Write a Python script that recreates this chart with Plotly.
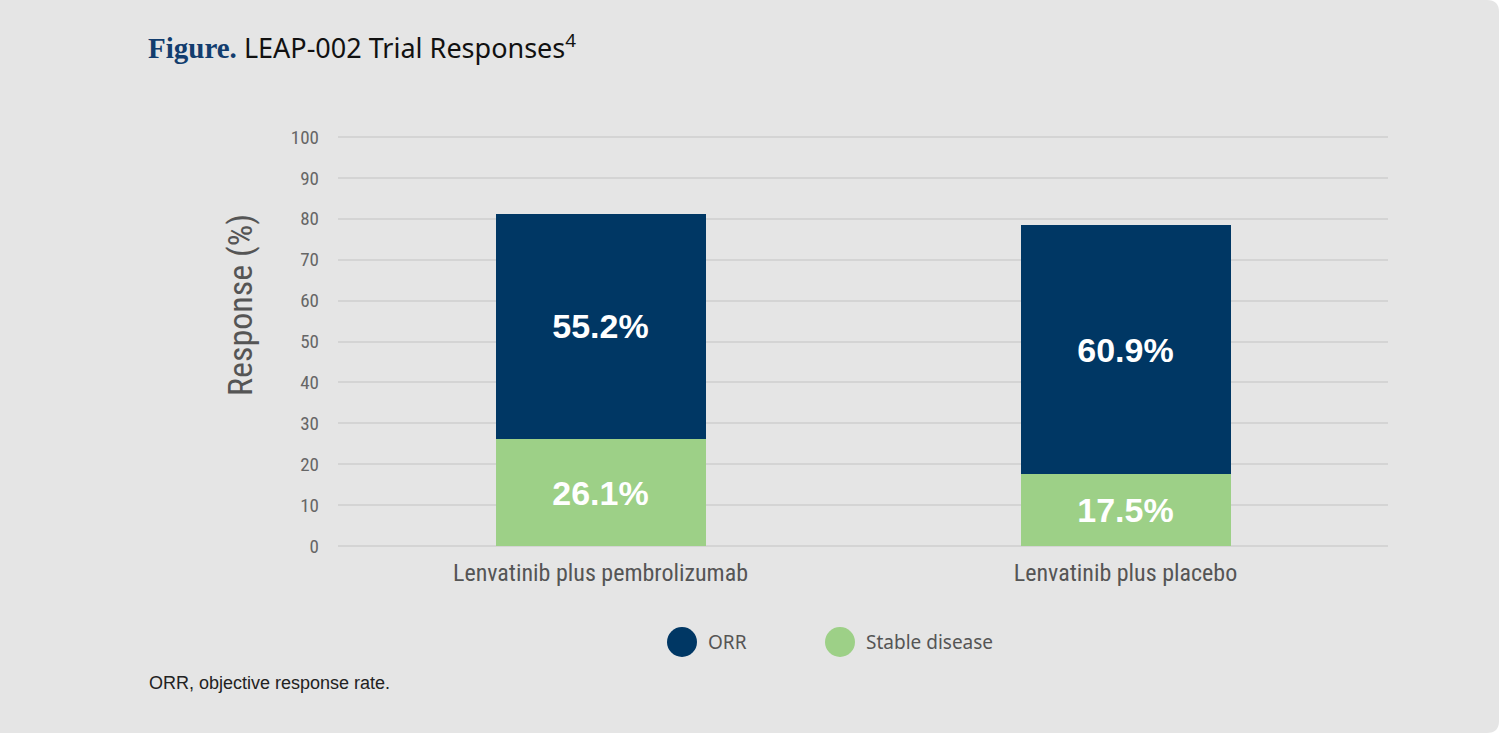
import plotly.graph_objects as go

categories = ["Lenvatinib plus pembrolizumab", "Lenvatinib plus placebo"]
stable_disease = [26.1, 17.5]
orr = [55.2, 60.9]
series_names = ["ORR", "Stable disease"]
y_ticks = [0, 10, 20, 30, 40, 50, 60, 70, 80, 90, 100]

NAVY = "#003764"
GREEN = "#9dd087"
BG = "#e5e5e5"
COND = "Liberation Sans Narrow, Roboto Condensed, DejaVu Sans Condensed, Arial Narrow, sans-serif"
W, H = 1502, 734
ML, MR, MT, MB = 338, 114, 136, 187
PW, PH = W - ML - MR, H - MT - MB


def px(x):
    return (x - ML) / PW


def py(y):
    return (H - MB - y) / PH


fig = go.Figure()
label_font = dict(color="white", size=34, family="Liberation Sans, Arial, sans-serif", weight="bold")
fig.add_trace(go.Bar(
    x=categories, y=stable_disease, name=series_names[1], marker_color=GREEN,
    text=[f"{v:.1f}%" for v in stable_disease], textposition="inside",
    insidetextanchor="middle", textangle=0, textfont=label_font,
    showlegend=False, marker_line_width=0, hoverinfo="skip",
))
fig.add_trace(go.Bar(
    x=categories, y=orr, name=series_names[0], marker_color=NAVY,
    text=[f"{v:.1f}%" for v in orr], textposition="inside",
    insidetextanchor="middle", textangle=0, textfont=label_font,
    showlegend=False, marker_line_width=0, hoverinfo="skip",
))

R = 12
path = (f"M {px(0)} {py(0)} L {px(1499 - R)} {py(0)} Q {px(1499)} {py(0)} {px(1499)} {py(R)} "
        f"L {px(1499)} {py(733 - R)} Q {px(1499)} {py(733)} {px(1499 - R)} {py(733)} "
        f"L {px(0)} {py(733)} Z")

shapes = [dict(type="path", xref="paper", yref="paper", path=path,
               fillcolor=BG, line_width=0, layer="below")]

annotations = [
    dict(xref="paper", yref="paper", x=px(146), y=py(47),
         xanchor="left", yanchor="middle", showarrow=False,
         text=("<span style=\"font-family:Liberation Serif, DejaVu Serif, serif;color:#123d6e;font-size:29px\"><b>Figure.</b></span>"
               " LEAP-002 Trial Responses<sup>4</sup>"),
         font=dict(family="Noto Sans, Open Sans, sans-serif", size=27, color="#111111")),
    dict(xref="paper", yref="paper", x=px(147), y=py(683),
         xanchor="left", yanchor="middle", showarrow=False,
         text="ORR, objective response rate.",
         font=dict(family="Liberation Sans, Arial, sans-serif", size=18, color="#222222")),
    dict(xref="paper", yref="paper", x=px(240), y=py(305),
         xanchor="center", yanchor="middle", showarrow=False, textangle=-90,
         text="Response (%)",
         font=dict(family=COND, size=34, color="#555555")),
]

# legend (circle markers with labels)
legend_items = [(series_names[0], NAVY, 682, 706), (series_names[1], GREEN, 840, 864)]
for name, col, cx, tx in legend_items:
    shapes.append(dict(type="circle", xref="paper", yref="paper",
                       x0=px(cx - 15), x1=px(cx + 15), y0=py(642 - 15), y1=py(642 + 15),
                       fillcolor=col, line_width=0))
    annotations.append(dict(xref="paper", yref="paper", x=px(tx), y=py(642),
                            xanchor="left", yanchor="middle", showarrow=False, text=name,
                            font=dict(family="Noto Sans, Open Sans, sans-serif", size=19, color="#555555")))

fig.update_layout(
    width=W, height=H,
    paper_bgcolor="white", plot_bgcolor="rgba(0,0,0,0)",
    margin=dict(l=ML, r=MR, t=MT, b=MB),
    barmode="stack", bargap=0.6, showlegend=False, hovermode=False,
    shapes=shapes, annotations=annotations,
    xaxis=dict(
        tickfont=dict(family=COND, size=24, color="#555555"),
        showgrid=False, zeroline=False, showline=False, ticks="",
        ticklabelstandoff=9,
    ),
    yaxis=dict(
        range=[-0.25, 100.25], tickvals=y_ticks, ticktext=[str(t) for t in y_ticks],
        tickfont=dict(family=COND, size=19, color="#666666"),
        gridcolor="#d4d4d4", gridwidth=2, zeroline=False, showline=False,
        ticks="", ticklabelstandoff=18,
    ),
)

fig.write_html("out.html", config={"displayModeBar": False, "staticPlot": True},
               post_script="document.body.style.margin='0';document.body.style.background='white';")
